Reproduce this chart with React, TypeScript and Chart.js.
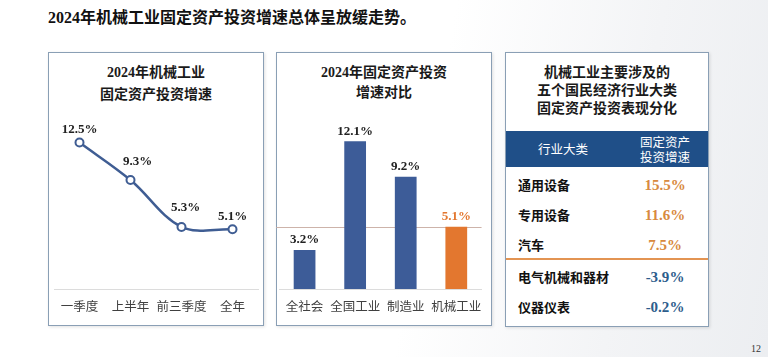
import React, { useEffect, useRef } from "react";
import { Chart, registerables } from "chart.js";
Chart.register(...registerables);

const pageTitle = "2024年机械工业固定资产投资增速总体呈放缓走势。";

const lineTitle = ["2024年机械工业", "固定资产投资增速"];
const lineCategories = ["一季度", "上半年", "前三季度", "全年"];
const lineValues = [12.5, 9.3, 5.3, 5.1];

const barTitle = ["2024年固定资产投资", "增速对比"];
const barCategories = ["全社会", "全国工业", "制造业", "机械工业"];
const barValues = [3.2, 12.1, 9.2, 5.1];
const barReference = 5.1;

const tableTitle = ["机械工业主要涉及的", "五个国民经济行业大类", "固定资产投资表现分化"];
const tableHeaders = ["行业大类", "固定资产", "投资增速"];
const tableIndustries = ["通用设备", "专用设备", "汽车", "电气机械和器材", "仪器仪表"];
const tableValues = [15.5, 11.6, 7.5, -3.9, -0.2];
const pageNumber = "12";

// styles
const CJK = "'Noto Sans CJK SC', sans-serif";
const SERIF_CJK = "'Liberation Serif', 'Noto Sans CJK SC', serif";
const LINE_BLUE = "#3f5d93";
const BAR_BLUE = "#3d5c98";
const ORANGE = "#e3772f";
const PANEL_BORDER = "#8a9fb5";
const lineLabelDx = [0, 7, 4, 0];
const lineLabelDy = [13, 18, 19, 13];

const valueLabelPlugin = {
  id: "valueLabels",
  afterDatasetsDraw(chart: any, _args: any, opts: any) {
    const { ctx } = chart;
    const meta = chart.getDatasetMeta(0);
    const data = chart.data.datasets[0].data as number[];
    ctx.save();
    ctx.font = opts.font;
    ctx.textAlign = "center";
    ctx.textBaseline = "middle";
    meta.data.forEach((el: any, i: number) => {
      const dx = opts.dx ? opts.dx[i] : 0;
      const dy = opts.dy ? opts.dy[i] : opts.offset;
      ctx.fillStyle = Array.isArray(opts.color) ? opts.color[i] : opts.color;
      ctx.fillText(data[i].toFixed(1) + "%", el.x + dx, el.y - dy);
    });
    ctx.restore();
  },
};

const refLinePlugin = {
  id: "refLine",
  beforeDatasetsDraw(chart: any, _args: any, opts: any) {
    const { ctx, chartArea } = chart;
    const y = chart.scales.y.getPixelForValue(opts.value);
    ctx.save();
    ctx.strokeStyle = opts.color;
    ctx.lineWidth = 1;
    ctx.beginPath();
    ctx.moveTo(chartArea.left - 3, Math.round(y) + 0.5);
    ctx.lineTo(chartArea.right, Math.round(y) + 0.5);
    ctx.stroke();
    ctx.restore();
  },
};

function LineChart() {
  const ref = useRef<HTMLCanvasElement>(null);
  useEffect(() => {
    const chart = new Chart(ref.current!, {
      type: "line",
      data: {
        labels: lineCategories,
        datasets: [
          {
            data: lineValues,
            borderColor: LINE_BLUE,
            borderWidth: 2.5,
            tension: 0.35,
            pointRadius: 4,
            pointBorderWidth: 2,
            pointBackgroundColor: "#ffffff",
            pointBorderColor: LINE_BLUE,
            clip: false,
          } as any,
        ],
      },
      options: {
        responsive: false,
        animation: false,
        layout: { padding: { left: 3, right: 2, top: 15, bottom: 2 } },
        plugins: {
          legend: { display: false },
          tooltip: { enabled: false },
          valueLabels: { font: `bold 13px ${SERIF_CJK}`, color: "#222222", dx: lineLabelDx, dy: lineLabelDy },
        } as any,
        scales: {
          x: {
            offset: true,
            grid: { display: false, drawTicks: false },
            border: { display: true, color: "#dcdcdc", width: 1 },
            ticks: { padding: 10, maxRotation: 0, autoSkip: false, color: "#404040", font: { family: CJK, size: 12.5 } },
          },
          y: { display: false, min: 0, max: 14 },
        },
      },
      plugins: [valueLabelPlugin],
    });
    return () => chart.destroy();
  }, []);
  return (
    <canvas ref={ref} width={216} height={216} style={{ position: "absolute", left: 48, top: 110, width: 216, height: 216 }} />
  );
}

function BarChart() {
  const ref = useRef<HTMLCanvasElement>(null);
  useEffect(() => {
    const colors = barCategories.map((_, i) => (i === barCategories.length - 1 ? ORANGE : BAR_BLUE));
    const labelColors = barCategories.map((_, i) => (i === barCategories.length - 1 ? ORANGE : "#222222"));
    const chart = new Chart(ref.current!, {
      type: "bar",
      data: {
        labels: barCategories,
        datasets: [
          {
            data: barValues,
            backgroundColor: colors,
            barPercentage: 0.43,
            categoryPercentage: 1,
          },
        ],
      },
      options: {
        responsive: false,
        animation: false,
        layout: { padding: { left: 3, right: 6, top: 8, bottom: 2 } },
        plugins: {
          legend: { display: false },
          tooltip: { enabled: false },
          valueLabels: { font: `bold 13px ${SERIF_CJK}`, color: labelColors, offset: 10 },
          refLine: { value: barReference, color: "#cdb3aa" },
        } as any,
        scales: {
          x: {
            grid: { display: false, drawTicks: false },
            border: { display: true, color: "#dcdcdc", width: 1 },
            ticks: { padding: 10, maxRotation: 0, autoSkip: false, color: "#404040", font: { family: CJK, size: 12.5 } },
          },
          y: { display: false, min: 0, max: 14 },
        },
      },
      plugins: [valueLabelPlugin, refLinePlugin],
    });
    return () => chart.destroy();
  }, []);
  return (
    <canvas ref={ref} width={216} height={216} style={{ position: "absolute", left: 276, top: 110, width: 216, height: 216 }} />
  );
}

function Panel({ left, top, width, height }: { left: number; top: number; width: number; height: number }) {
  return (
    <div
      style={{
        position: "absolute",
        left,
        top,
        width,
        height,
        boxSizing: "border-box",
        border: `1px solid ${PANEL_BORDER}`,
        background: "#ffffff",
        boxShadow: "1px 1px 3px rgba(0,0,0,0.12)",
      }}
    />
  );
}

function TitleLines({ lines, cx, top, lineHeight, size }: { lines: string[]; cx: number; top: number; lineHeight: number; size: number }) {
  return (
    <div
      style={{
        position: "absolute",
        left: cx - 110,
        width: 220,
        top,
        textAlign: "center",
        fontFamily: SERIF_CJK,
        fontWeight: 700,
        fontSize: size,
        lineHeight: `${lineHeight}px`,
        color: "#1a1a1a",
        whiteSpace: "nowrap",
      }}
    >
      {lines.map((l, i) => (
        <div key={i}>{l}</div>
      ))}
    </div>
  );
}

function Table() {
  const left = 505;
  const width = 204;
  const rowTop = 170;
  const rowH = 30;
  const sepGap = 2;
  return (
    <>
      <div style={{ position: "absolute", left: left + 1, top: 131, width: width - 2, height: 36, background: "#1f4f88" }} />
      <div
        style={{
          position: "absolute",
          left: left + 1,
          top: 131,
          width: 114,
          height: 36,
          lineHeight: "36px",
          textAlign: "center",
          color: "#ffffff",
          fontFamily: CJK,
          fontSize: 12.5,
        }}
      >
        {tableHeaders[0]}
      </div>
      <div
        style={{
          position: "absolute",
          left: left + 110,
          top: 134,
          width: 100,
          textAlign: "center",
          color: "#ffffff",
          fontFamily: CJK,
          fontSize: 12.5,
          lineHeight: "15px",
        }}
      >
        <div>{tableHeaders[1]}</div>
        <div>{tableHeaders[2]}</div>
      </div>
      {tableIndustries.map((name, i) => {
        const top = rowTop + i * rowH + (i >= 3 ? sepGap : 0);
        const v = tableValues[i];
        return (
          <React.Fragment key={name}>
            <div
              style={{
                position: "absolute",
                left: left + 13,
                top,
                height: rowH,
                lineHeight: `${rowH}px`,
                fontFamily: CJK,
                fontWeight: 700,
                fontSize: 13,
                color: "#111111",
                whiteSpace: "nowrap",
              }}
            >
              {name}
            </div>
            <div
              style={{
                position: "absolute",
                left: left + 110,
                width: 100,
                top,
                height: rowH,
                lineHeight: `${rowH}px`,
                textAlign: "center",
                fontFamily: SERIF_CJK,
                fontWeight: 700,
                fontSize: 15,
                color: v >= 0 ? "#d88a40" : "#2d5d8c",
              }}
            >
              {v.toFixed(1)}%
            </div>
          </React.Fragment>
        );
      })}
      <div style={{ position: "absolute", left: left + 1, top: 258, width: width - 2, height: 2, background: "#e39452" }} />
    </>
  );
}

export default function App() {
  return (
    <div
      style={{
        position: "absolute",
        left: 0,
        top: 0,
        width: 768,
        height: 357,
        overflow: "hidden",
        background: "linear-gradient(100deg, #ffffff 0%, #ffffff 55%, #f3f4f6 80%, #eceef1 100%)",
      }}
    >
      <div
        style={{
          position: "absolute",
          left: 48,
          top: 7,
          fontFamily: SERIF_CJK,
          fontWeight: 700,
          fontSize: 16,
          lineHeight: "21px",
          color: "#111111",
          whiteSpace: "nowrap",
        }}
      >
        {pageTitle}
      </div>
      <Panel left={48} top={52} width={216} height={274} />
      <Panel left={276} top={52} width={216} height={274} />
      <Panel left={505} top={52} width={204} height={275} />
      <TitleLines lines={lineTitle} cx={156} top={62} lineHeight={22} size={14} />
      <TitleLines lines={barTitle} cx={384} top={63} lineHeight={20} size={14} />
      <TitleLines lines={tableTitle} cx={607} top={64} lineHeight={18} size={14} />
      <LineChart />
      <BarChart />
      <Table />
      <div
        style={{
          position: "absolute",
          left: 751,
          top: 343,
          fontFamily: "'Liberation Serif', serif",
          fontSize: 10,
          color: "#333333",
        }}
      >
        {pageNumber}
      </div>
    </div>
  );
}
